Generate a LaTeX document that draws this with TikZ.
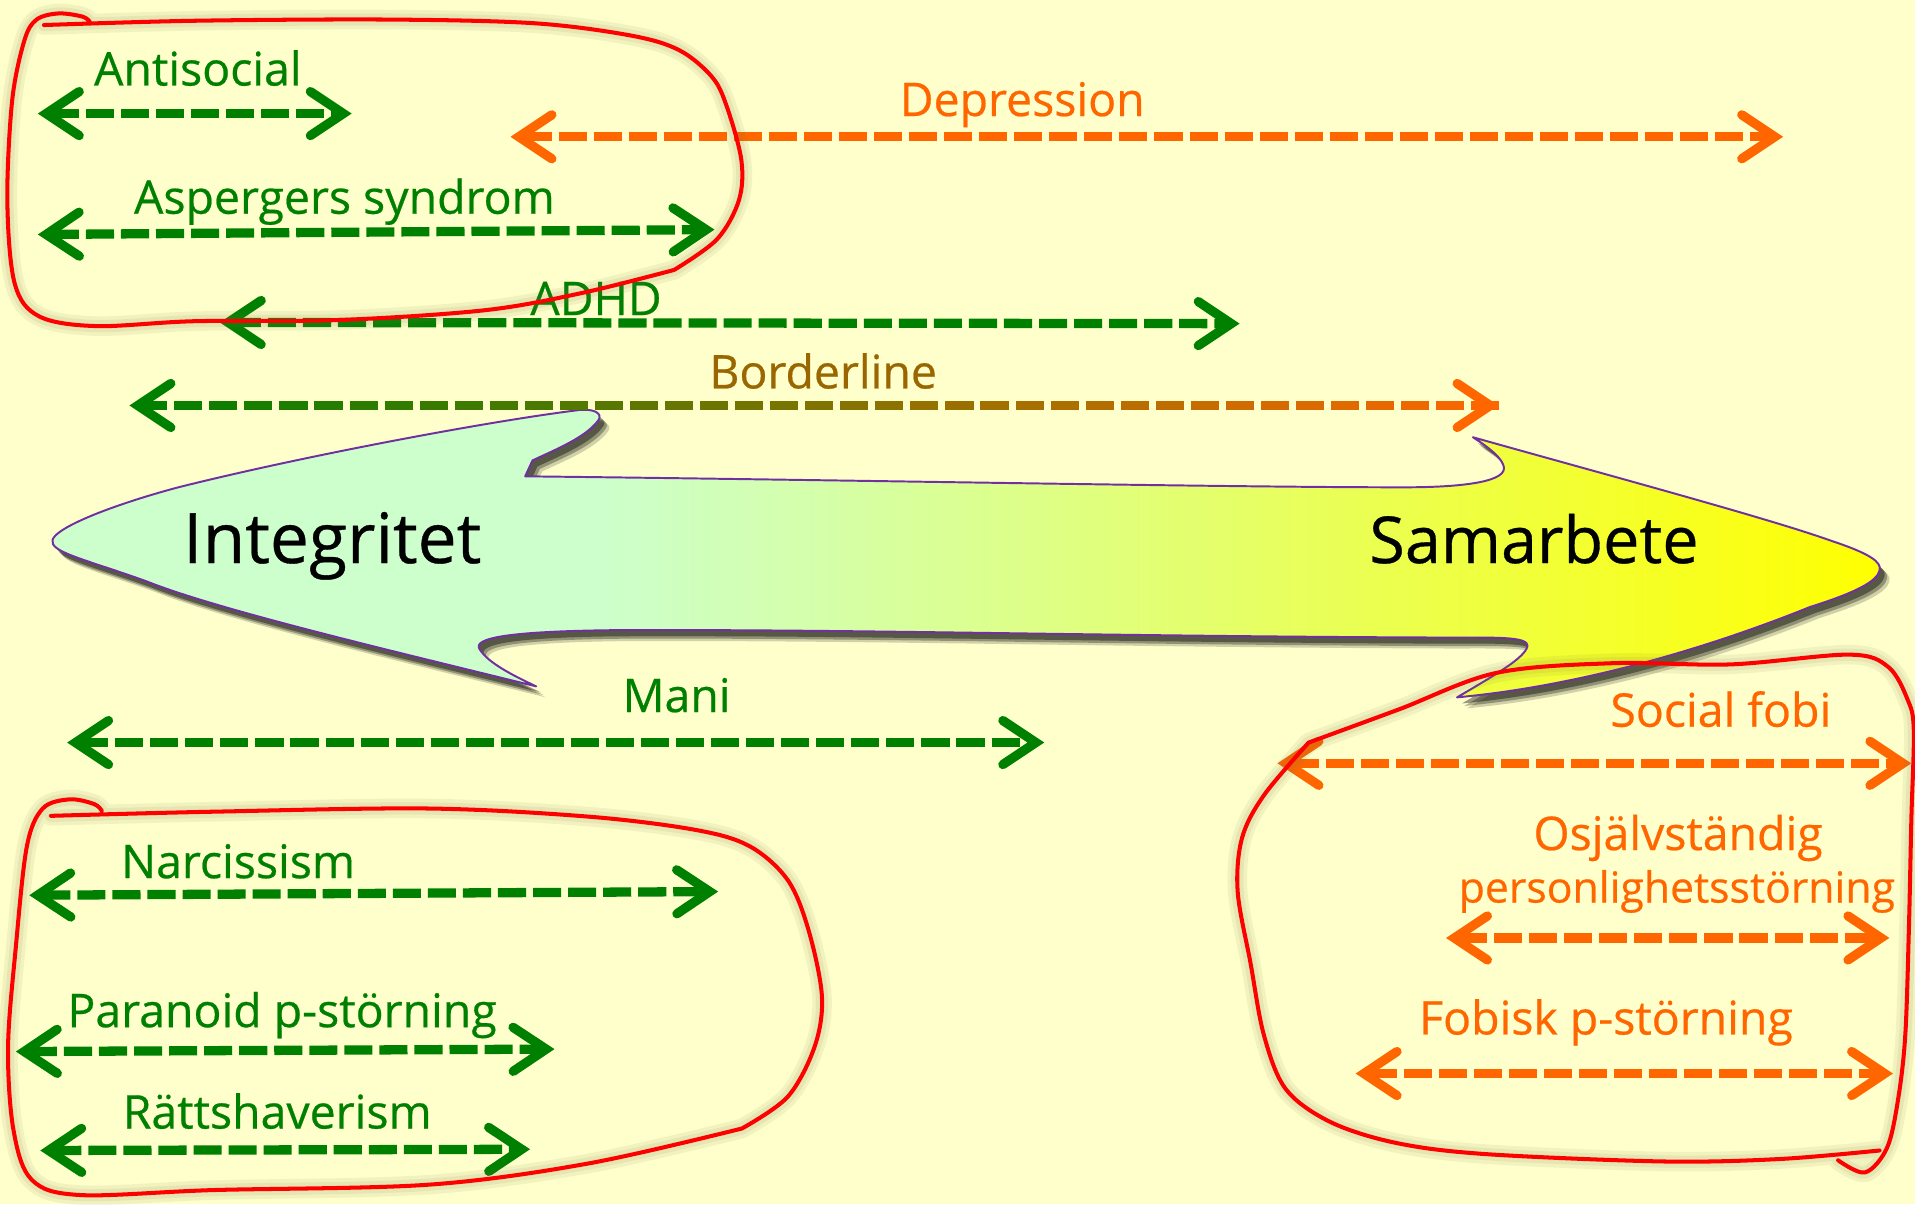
\documentclass[tikz,border=0pt]{standalone}
\usepackage{fontspec}
\setmainfont{Open Sans}[FakeBold=0.5]
\usetikzlibrary{arrows.meta}
\definecolor{bg}{RGB}{255,255,204}
\definecolor{grn}{RGB}{0,128,0}
\definecolor{org}{RGB}{255,102,0}
\definecolor{brn}{RGB}{153,102,0}
\definecolor{mint}{RGB}{204,255,204}
\definecolor{ylw}{RGB}{255,255,0}
\definecolor{lilac}{RGB}{112,48,160}
\definecolor{redl}{RGB}{255,0,0}
\definecolor{glow}{RGB}{120,120,60}
\pgfdeclarehorizontalshading{bigshade}{100bp}{color(0bp)=(mint); color(40bp)=(mint); color(75bp)=(ylw); color(100bp)=(ylw)}
\def\bigpath{(430,390)
 .. controls (700,393) and (1000,399) .. (1150,399)
 .. controls (1200,399) and (1236,394) .. (1231,381)
 .. controls (1228,372) and (1212,362) .. (1206,358)
 .. controls (1320,390) and (1450,425) .. (1500,443)
 .. controls (1530,453) and (1541,460) .. (1539,467)
 .. controls (1537,476) and (1520,485) .. (1482,497)
 .. controls (1420,522) and (1310,560) .. (1193,571)
 .. controls (1220,555) and (1245,541) .. (1250,531)
 .. controls (1255,521) and (1230,522) .. (1180,522)
 .. controls (900,521) and (700,515) .. (500,516)
 .. controls (420,517) and (385,522) .. (393,532)
 .. controls (400,543) and (420,553) .. (439,562)
 .. controls (330,535) and (180,500) .. (120,476)
 .. controls (70,458) and (40,452) .. (43,442)
 .. controls (46,432) and (90,414) .. (146,399)
 .. controls (250,373) and (400,345) .. (472,336)
 .. controls (485,334) and (494,338) .. (490,344)
 .. controls (480,358) and (455,368) .. (436,377)
 -- cycle}
\def\blobA{plot[smooth,tension=0.55] coordinates {(36,20.5) (159,17) (317,16) (437,19) (516,29) (556,41) (583,63) (595,87) (607,131) (605,164) (587,196) (552,221)}
 -- plot[smooth,tension=0.55] coordinates {(552,221) (476,240) (397,254) (278,262) (159,263) (79,267) (32,259) (12,232) (6,164) (10,82) (20,33) (30,16) (48,11) (67.5,13.6) (73.4,17.7)}}
\def\blobB{plot[smooth,tension=0.55] coordinates {(41.7,668) (175,664.6) (351,662) (482.5,668.7) (570,679.6) (614,693) (645,720.6) (662,761.5) (673,816) (667,857) (645,898) (607.5,924)}
 -- plot[smooth,tension=0.55] coordinates {(607.5,924) (482.5,952.5) (351,970) (175,974.4) (66,978.5) (26,966) (11,925) (6.6,857) (13,775) (22,693) (35,662) (57,654.5) (77,658.3) (83.3,663.8)}}
\def\blobC{plot[smooth,tension=0.55] coordinates {(1539,942) (1457,949) (1362,951) (1217,945) (1144,936) (1090,919) (1053,892) (1035,848) (1024,789) (1013.4,730) (1017,686) (1035,651) (1071.5,608)}
 -- plot[smooth,tension=0.55] coordinates {(1071.5,608) (1145,581) (1225,551) (1321,543) (1417,544) (1514,536) (1546,546) (1562,573) (1567,598) (1565,671) (1563,760) (1560,848) (1554,901) (1545,940) (1527,960) (1505,950)}}
\tikzset{
  lbl/.style={anchor=base, inner sep=0pt, font=\fontsize{38}{40}\selectfont},
  big/.style={anchor=base, inner sep=0pt, font=\fontsize{#1}{60}\selectfont, text=black},
  dbl/.style={draw=#1, line width=7.6pt, dash pattern=on 23pt off 5.7pt,
    >={Straight Barb[length=27pt,width=36pt,line cap=round,line join=miter]}, <->},
  tipline/.style={draw=#1, line width=7.6pt,
    >={Straight Barb[length=27pt,width=36pt,line cap=round,line join=miter]}},
  blob/.style={draw=redl, line width=3.3pt, line cap=round, line join=round},
  blobglow/.style={draw=glow, line width=#1, opacity=0.09, line cap=round, line join=round}
}
\begin{document}
\begin{tikzpicture}[x=1pt,y=-1pt]
\useasboundingbox (0,0) rectangle (1568,986);
\fill[bg] (0,0) rectangle (1568,986);

% big double arrow with shadow
\begin{scope}[shift={(8,9)}]\fill[black,opacity=0.18] \bigpath;\end{scope}
\begin{scope}[shift={(6,7)}]\fill[black,opacity=0.3] \bigpath;\end{scope}
\begin{scope}[shift={(4,5)}]\fill[black,opacity=0.4] \bigpath;\end{scope}
\shade[shading=bigshade] \bigpath;
\draw[lilac, line width=1.6pt, line join=round] \bigpath;
\node[big=57] (integ) at (272,461) {Integritet};
\node[big=53] (samar) at (1256,461) {Samarbete};

% arrow end coordinates
\coordinate (anL) at (31,93);   \coordinate (anR) at (288,93);
\coordinate (deL) at (418,112); \coordinate (deR) at (1460,112);
\coordinate (asL) at (31,192);  \coordinate (asR) at (585,188);
\coordinate (adL) at (180,264); \coordinate (adR) at (1015,265);
\coordinate (blL) at (106,332); \coordinate (blR) at (1227,332);
\coordinate (maL) at (55,608);  \coordinate (maR) at (855,608);
\coordinate (naL) at (24,733);  \coordinate (naR) at (588,730);
\coordinate (paL) at (13,861);  \coordinate (paR) at (454,859);
\coordinate (raL) at (33,942);  \coordinate (raR) at (434,941);
\coordinate (soL) at (1046,625);\coordinate (soR) at (1565,625);
\coordinate (osL) at (1184,768);\coordinate (osR) at (1547,768);
\coordinate (foL) at (1110,879);\coordinate (foR) at (1550,879);

\draw[dbl=grn] (anL) -- (anR);
\draw[dbl=org] (deL) -- (deR);
\draw[dbl=grn] (asL) -- (asR);
\draw[dbl=grn] (adL) -- (adR);
\draw[dbl=grn] (maL) -- (maR);
\draw[dbl=grn] (naL) -- (naR);
\draw[dbl=grn] (paL) -- (paR);
\draw[dbl=grn] (raL) -- (raR);
\draw[dbl=org] (soL) -- (soR);
\draw[dbl=org] (osL) -- (osR);
\draw[dbl=org] (foL) -- (foR);

% borderline: colour runs from green to orange
\foreach \k in {0,...,38} {
  \pgfmathsetmacro\xa{114+\k*28.7}
  \pgfmathsetmacro\xb{\xa+23}
  \pgfmathtruncatemacro\pc{100-(\xa-106)/11.21}
  \draw[line width=7.6pt, color=grn!\pc!org] (\xa,332) -- (\xb,332);
}
\draw[tipline=grn, <-] (blL) -- ([xshift=8pt]blL);
\draw[tipline=org, ->] ([xshift=-8pt]blR) -- (blR);

% labels
\node[lbl, text=grn] (tan) at (162,70) {Antisocial};
\node[lbl, text=org] (tde) at (837,95) {Depression};
\node[lbl, text=grn] (tas) at (282,175) {Aspergers syndrom};
\node[lbl, text=grn] (tad) at (488,258) {ADHD};
\node[lbl, text=brn] (tbl) at (674,318) {Borderline};
\node[lbl, text=grn] (tma) at (554,583) {Mani};
\node[lbl, text=grn] (tna) at (195,719) {Narcissism};
\node[lbl, text=grn] (tpa) at (231,841) {Paranoid p-störning};
\node[lbl, text=grn] (tra) at (227,924) {Rättshaverism};
\node[lbl, text=org] (tso) at (1409,595) {Social fobi};
\node[lbl, text=org] (tos1) at (1374,696) {Osjälvständig};
\node[lbl, text=org, font=\fontsize{35}{40}\selectfont] (tos2) at (1373,739) {personlighetsstörning};
\node[lbl, text=org] (tfo) at (1315,847) {Fobisk p-störning};

% red hand-drawn outlines with a soft halo
\foreach \w in {16pt,10pt} {
  \draw[blobglow=\w] \blobA; \draw[blobglow=\w] \blobB; \draw[blobglow=\w] \blobC;
}
\draw[blob] \blobA;
\draw[blob] \blobB;
\draw[blob] \blobC;
\end{tikzpicture}
\end{document}
